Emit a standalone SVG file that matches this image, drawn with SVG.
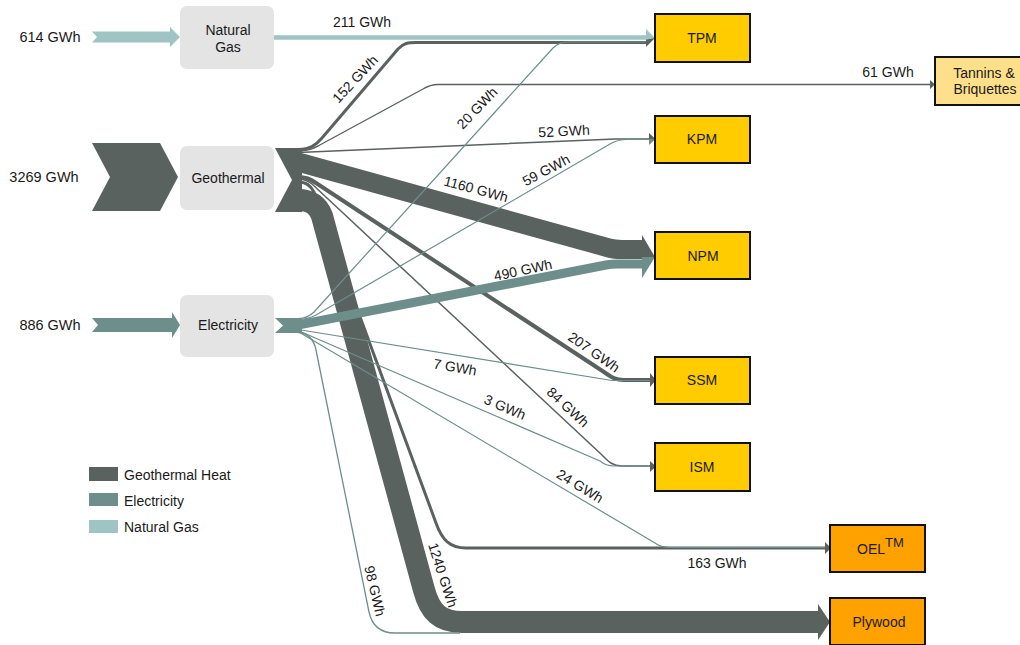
<svg xmlns="http://www.w3.org/2000/svg" width="1020" height="645" viewBox="0 0 1020 645">
  <defs>
    <style>
      text { font-family: "Liberation Sans", Arial, sans-serif; font-size: 14px; fill: #1a1a1a; }
      .src { fill: #e4e4e4; }
      .dst { stroke: #111; stroke-width: 2; }
      .yel { fill: #ffcc00; }
      .lyel { fill: #ffe08a; }
      .org { fill: #ffa200; }
      .geo { fill: none; stroke: #5a625f; stroke-linejoin: round; }
      .ele { fill: none; stroke: #6e8e8c; stroke-linejoin: round; }
      .gas { fill: none; stroke: #9ec5c3; }
      .fgeo { fill: #5a625f; }
      .fele { fill: #6e8e8c; }
      .fgas { fill: #9ec5c3; }
      .lbl { text-anchor: middle; }
    </style>
  </defs>
  <rect width="1020" height="645" fill="#ffffff"/>

  <!-- input quantities -->
  <g id="inputs">
    <polygon class="fgas" points="92,31.5 170,31.5 170,27 180,37 170,47 170,42.5 92,42.5 97,37"/>
    <polygon class="fgeo" points="92,143 160,143 178,177 160,211 92,211 110,177"/>
    <polygon class="fele" points="92,318 172,318 172,312 180,325 172,338 172,332 92,332 98,325"/>
    <text x="50" y="42" class="lbl" style="font-size:14.5px">614 GWh</text>
    <text x="44" y="182" class="lbl" style="font-size:14.5px">3269 GWh</text>
    <text x="50" y="330" class="lbl" style="font-size:14.5px">886 GWh</text>
  </g>

  <!-- source nodes -->
  <g id="node-natural-gas">
    <rect class="src" x="180" y="6" width="94" height="63" rx="7"/>
    <text x="228" y="35" class="lbl">Natural</text>
    <text x="228" y="52" class="lbl">Gas</text>
  </g>
  <g id="node-geothermal">
    <rect class="src" x="180" y="146" width="94" height="64" rx="7"/>
    <text x="228" y="183" class="lbl">Geothermal</text>
  </g>
  <g id="node-electricity">
    <rect class="src" x="180" y="295" width="94" height="62" rx="7"/>
    <text x="228" y="330" class="lbl">Electricity</text>
  </g>

  <!-- flows -->
  <g id="connectors">
    <!-- geothermal heat -->
    <polygon class="fgeo" points="275,148 302,148 302,212 275,212 292,180"/>
    <path class="geo" stroke-width="22" d="M298,200 C312,200 318,206 322,216 L424,590 C430,612 440,622 462,622 L819,622"/>
    <path class="geo" stroke-width="19" d="M298,162 L609,248 Q614,249.5 622,249.5 L643,249.5"/>
    <path class="geo" stroke-width="3" d="M298,149.5 C310,149.5 316,145 322,138 L398,49 C404,43 408,42.5 416,42.5 L647,42.5"/>
    <path class="geo" stroke-width="1.4" d="M298,151 C308,151 312,149 318,146 L423,89 C428,86 431,84.5 438,84.5 L931,84.5"/>
    <path class="geo" stroke-width="1.4" d="M298,152.5 L615,139 L650,139"/>
    <path class="geo" stroke-width="4" d="M298,177 C306,177 310,179 316,183 L604,372 C610,376 614,380 624,380 L651,380"/>
    <path class="geo" stroke-width="1.5" d="M298,179 C304,179 308,181 312,184 L602,455 C608,461 612,466 622,466 L651,466"/>
    <path class="geo" stroke-width="3" d="M298,182 C306,182 310,185 314,192 L436,523 C442,540 450,548 466,548 L826,548"/>

    <!-- natural gas -->
    <path class="gas" stroke-width="4.5" d="M274,37.5 L647,37.5"/>

    <!-- electricity -->
    <polygon class="fele" points="275,318 302,318 302,333 275,333 283,325.5"/>
    <path class="ele" stroke-width="1.2" d="M298,318.5 C306,318.5 310,316 314,312 L553,48 C558,43 562,42 572,42 L647,42"/>
    <path class="ele" stroke-width="1.2" d="M298,319.5 C306,319.5 310,318 316,315 L610,144 C615,141 619,139.5 627,139.5 L650,139.5"/>
    <path class="ele" stroke-width="9" d="M298,325 L606,265 Q611,264 618,264 L643,264"/>
    <path class="ele" stroke-width="1.2" d="M298,329.5 L612,380.5 L651,380.5"/>
    <path class="ele" stroke-width="1.2" d="M298,330.5 L600,461 Q606,466 614,466 L651,466"/>
    <path class="ele" stroke-width="1.2" d="M298,331.5 L655,543 Q661,547.5 670,547.5 L826,547.5"/>
    <path class="ele" stroke-width="1.3" d="M298,332.5 C308,332.5 314,340 316,350 L369,612 C372,626 380,633 395,633 L460,633"/>

    <!-- arrowheads -->
    <polygon class="fgas" points="646,29 655,38 646,39.5"/>
    <polygon class="fgeo" points="646,39.5 655,38 646,47"/>
    <polygon class="fgeo" points="649,133 655.5,139 649,139"/>
    <polygon class="fele" points="649,139 655.5,139 649,145"/>
    <polygon class="fgeo" points="642,235 655,257 642,257"/>
    <polygon class="fele" points="642,257 655,257 642,278"/>
    <polygon class="fgeo" points="650,373 656,380 650,387"/>
    <polygon class="fgeo" points="650,461 656,466.5 650,472"/>
    <polygon class="fgeo" points="825,542 831,548 825,554"/>
    <polygon class="fgeo" points="930,80 935,84.5 930,89"/>
    <polygon class="fgeo" points="818,604 830,622 818,640"/>

    <!-- flow values -->
    <text x="362" y="27" class="lbl">211 GWh</text>
    <text class="lbl" transform="translate(355,79) rotate(-47)" y="5">152 GWh</text>
    <text x="888" y="77" class="lbl">61 GWh</text>
    <text class="lbl" transform="translate(477,108) rotate(-46)" y="5">20 GWh</text>
    <text class="lbl" transform="translate(564,131) rotate(-3)" y="5">52 GWh</text>
    <text class="lbl" transform="translate(546,170) rotate(-28)" y="5">59 GWh</text>
    <text class="lbl" transform="translate(476,189) rotate(15)" y="5">1160 GWh</text>
    <text class="lbl" transform="translate(523,270) rotate(-12)" y="5">490 GWh</text>
    <text class="lbl" transform="translate(594,352) rotate(35)" y="5">207 GWh</text>
    <text class="lbl" transform="translate(455,367) rotate(10)" y="5">7 GWh</text>
    <text class="lbl" transform="translate(505,407) rotate(23)" y="5">3 GWh</text>
    <text class="lbl" transform="translate(568,407) rotate(43)" y="5">84 GWh</text>
    <text class="lbl" transform="translate(580,486) rotate(31)" y="5">24 GWh</text>
    <text x="717" y="568" class="lbl">163 GWh</text>
    <text class="lbl" transform="translate(443,575) rotate(72)" y="5">1240 GWh</text>
    <text class="lbl" transform="translate(375,591) rotate(77)" y="5">98 GWh</text>
  </g>

  <!-- destination nodes -->
  <g id="node-tpm">
    <rect class="dst yel" x="655" y="14" width="95" height="48"/>
    <text x="702" y="43" class="lbl">TPM</text>
  </g>
  <g id="node-tannins">
    <rect class="dst lyel" x="935" y="57" width="100" height="48"/>
    <text x="984" y="78" class="lbl">Tannins &amp;</text>
    <text x="985" y="94" class="lbl">Briquettes</text>
  </g>
  <g id="node-kpm">
    <rect class="dst yel" x="655" y="116" width="95" height="47"/>
    <text x="702" y="144" class="lbl">KPM</text>
  </g>
  <g id="node-npm">
    <rect class="dst yel" x="655" y="232" width="95" height="47"/>
    <text x="703" y="261" class="lbl">NPM</text>
  </g>
  <g id="node-ssm">
    <rect class="dst yel" x="655" y="357" width="95" height="47"/>
    <text x="702" y="385" class="lbl">SSM</text>
  </g>
  <g id="node-ism">
    <rect class="dst yel" x="655" y="443" width="95" height="48"/>
    <text x="702" y="472" class="lbl">ISM</text>
  </g>
  <g id="node-oel">
    <rect class="dst org" x="830" y="525" width="95" height="47"/>
    <text x="857" y="554">OEL<tspan dy="-7" style="font-size:13px">TM</tspan></text>
  </g>
  <g id="node-plywood">
    <rect class="dst org" x="830" y="598" width="95" height="47"/>
    <text x="879" y="627" class="lbl">Plywood</text>
  </g>

  <!-- legend -->
  <g id="legend">
    <rect class="fgeo" x="89" y="467" width="29" height="14"/>
    <rect class="fele" x="89" y="493" width="29" height="13"/>
    <rect class="fgas" x="89" y="520" width="29" height="13"/>
    <text x="124" y="480">Geothermal Heat</text>
    <text x="124" y="506">Electricity</text>
    <text x="124" y="532">Natural Gas</text>
  </g>
</svg>
